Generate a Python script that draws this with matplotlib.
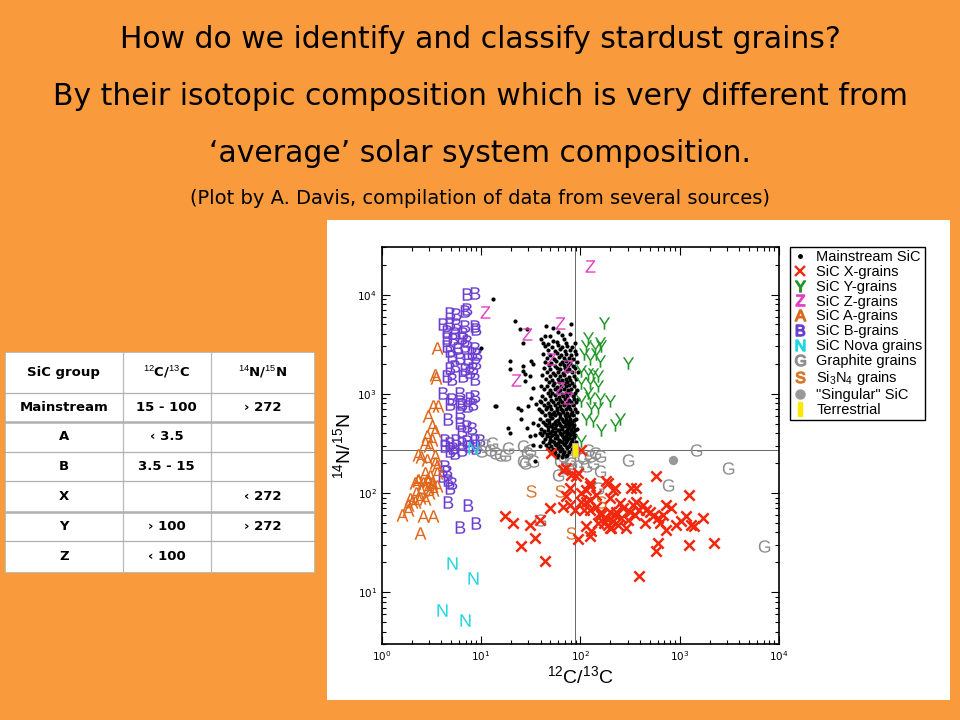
import matplotlib
matplotlib.use("Agg")
import matplotlib.pyplot as plt
from matplotlib.lines import Line2D
from matplotlib.patches import Rectangle
from matplotlib.ticker import LogLocator, LogFormatterMathtext, NullFormatter

plt.rcParams["font.family"] = ["DejaVu Sans"]
plt.rcParams["mathtext.fontset"] = "custom"
plt.rcParams["mathtext.rm"] = "Liberation Sans"
plt.rcParams["mathtext.it"] = "Liberation Sans:italic"
plt.rcParams["mathtext.bf"] = "Liberation Sans:bold"

BG = "#F99B3C"

# ---- data: (12C/13C, 14N/15N) ----
a_grains = [
    (3.57, 2900), (3.43, 1550), (3.55, 1450), (3.30, 750), (3.70, 750), (2.94, 594),
    (3.18, 471), (3.43, 419), (2.83, 373), (3.18, 345), (3.00, 300), (2.33, 244),
    (3.43, 234), (3.57, 186), (2.33, 136), (2.83, 136), (3.18, 126), (2.94, 112),
    (3.30, 108), (1.93, 86), (2.16, 82), (2.43, 89), (2.72, 86), (1.59, 60),
    (1.85, 68), (2.62, 58), (3.30, 58), (2.43, 39.5), (1.85, 76), (2.00, 82),
    (2.16, 126), (2.33, 131), (2.62, 126), (2.94, 131), (3.18, 117), (2.72, 159),
    (3.06, 147), (3.57, 117), (2.72, 318), (2.50, 230), (2.83, 217), (3.43, 201),
    (3.57, 159), (2.20, 100), (2.50, 105), (3.00, 100),
]
b_grains = [
    (7.15, 10070), (8.67, 10470), (4.86, 6580), (5.66, 6310), (6.87, 6820), (7.15, 7080),
    (4.16, 5010), (4.86, 5210), (5.66, 5010), (6.87, 4820), (8.67, 4820), (9.00, 4470),
    (4.50, 4290), (5.45, 4130), (6.61, 4130), (4.50, 3680), (5.25, 3530), (6.37, 3680),
    (7.15, 3400), (4.50, 3030), (4.86, 2690), (5.89, 2920), (6.87, 3030), (8.67, 2920),
    (8.04, 2590), (9.02, 2500), (5.06, 2400), (6.12, 2310), (7.43, 2220), (4.86, 1830),
    (5.45, 1900), (6.87, 1760), (8.30, 1830), (9.00, 2060), (4.50, 1510), (5.06, 1400),
    (6.61, 1510), (8.67, 1400), (7.70, 1650), (4.16, 1023), (6.12, 1023), (5.06, 877),
    (6.12, 842), (7.70, 912), (8.67, 946), (4.86, 780), (6.37, 780), (7.43, 750),
    (8.30, 780), (6.12, 643), (4.67, 551), (6.12, 509), (7.15, 471), (8.04, 454),
    (6.37, 419), (4.33, 345), (4.86, 320), (5.66, 345), (6.37, 320), (7.15, 332),
    (8.67, 345), (9.72, 345), (4.33, 296), (5.25, 285), (6.37, 274), (7.70, 296),
    (9.00, 285), (5.45, 254), (4.86, 263), (4.33, 186), (4.50, 165), (4.16, 147),
    (4.67, 136), (5.06, 126), (4.86, 112), (4.70, 82), (7.40, 76), (9.00, 50),
    (6.12, 45),
]
z_grains = [
    (124, 19300), (10.9, 6730), (28.7, 3970), (22.7, 1390), (61.9, 5210),
    (51.1, 2220), (75, 1900), (61.9, 1150), (75, 912),
]
y_grains = [
    (175, 5210), (119, 3680), (156, 3270), (115, 3030), (139, 2920), (163, 3030),
    (110, 2500), (124, 2220), (145, 2500), (156, 2140), (301, 2060), (102, 1690),
    (119, 1570), (134, 1570), (150, 1510), (102, 1290), (124, 1290), (150, 1190),
    (119, 1023), (102, 842), (124, 912), (156, 877), (197, 842), (150, 722),
    (129, 722), (115, 551), (134, 529), (163, 435), (221, 490), (248, 551), (102, 332),
]
n_grains = [(5.06, 19.6), (8.33, 13.8), (4.01, 6.6), (6.87, 5.25), (8.33, 285)]
g_grains = [
    (10.9, 308), (12.3, 274), (13.8, 254), (15.5, 244), (10.1, 263), (18.7, 285),
    (26.5, 296), (28.7, 254), (30.9, 274), (26.5, 208), (27.6, 201), (17.3, 244),
    (33.4, 208), (61.9, 208), (69.5, 179), (81.2, 201), (94.6, 186), (115, 186),
    (124, 234), (139, 254), (156, 234), (156, 165), (150, 112), (39, 54),
    (59.6, 153), (301, 217), (1465, 274), (3040, 179), (759, 121), (7110, 28.9),
    (66.8, 234), (78, 217), (106, 226), (134, 201), (12.8, 320), (119, 274),
]
s_grains = [(32.2, 104), (61.9, 104), (81.2, 39.5), (163, 82)]
x_grains = [
    (51.1, 254), (102, 274), (72.3, 179), (81.2, 153), (91.2, 147), (78, 112),
    (102, 100), (124, 117), (182, 131), (221, 112), (326, 112), (366, 112),
    (78, 76), (87.6, 68), (102, 82), (115, 82), (124, 68), (156, 63),
    (49.1, 70.5), (17.3, 58), (21, 50), (30.9, 48), (39, 54), (34.7, 35),
    (25.5, 29), (43.8, 20.4), (94.6, 34), (115, 46), (129, 41), (182, 56),
    (197, 44), (239, 48), (290, 44), (230, 65), (338, 76), (66.8, 172),
    (94.6, 159), (124, 126), (115, 108), (189, 126), (213, 108), (72.3, 92.5),
    (124, 85.5), (145, 96), (197, 89), (248, 79), (366, 82), (460, 68),
    (581, 147), (1255, 96), (66.8, 73), (110, 68), (145, 73), (163, 60),
    (197, 65), (221, 60), (268, 70.5), (313, 65), (352, 60), (394, 68),
    (426, 76), (497, 65), (443, 50), (537, 58), (603, 56), (676, 60),
    (627, 50), (731, 42.6), (923, 48), (1035, 52), (1160, 58), (1305, 48),
    (1410, 46), (1710, 56), (2240, 31), (1255, 30), (603, 31), (581, 25.7),
    (394, 14.4), (205, 44), (189, 48), (124, 36.5), (150, 50), (175, 50),
    (213, 52), (258, 56), (301, 54), (731, 76), (822, 70.5),
]
mainstream = [
    (13.2, 8970), (21.9, 5400), (24.5, 4500), (28.7, 4500), (26.5, 3270), (32.2, 2130),
    (33.4, 2000), (19.5, 2130), (19.5, 1760), (26.5, 1900), (26.5, 1690), (27.6, 1570),
    (30.9, 1510), (27.6, 1340), (33.4, 1150), (32.2, 912), (14.3, 750), (23.6, 722),
    (25.5, 694), (29.7, 750), (36.1, 780), (39, 842), (25.5, 551), (33.4, 509),
    (37.5, 490), (18.7, 454), (19.5, 404), (28.7, 454), (30.9, 373), (34.7, 388),
    (39, 296), (33.4, 308), (39, 404), (40.5, 667), (34.7, 208), (10.1, 2920),
    (13.8, 750), (45.5, 4850), (53, 4650), (40.5, 3530), (43.8, 3820), (49.1, 3820),
    (53, 3400), (42.1, 3270), (47.2, 3150), (78, 3970), (81.2, 5010), (72.3, 3270),
    (87.6, 3270), (60, 4200), (65, 3900), (68, 3600), (58, 3300),
    (44, 3050), (52, 2950), (60, 3080), (66, 2980), (74, 3020), (83, 2940),
    (47, 2760), (55, 2700), (63, 2800), (70, 2720), (78, 2780), (88, 2690),
    (42, 2520), (50, 2460), (58, 2550), (64, 2480), (72, 2530), (80, 2450), (90, 2510),
    (46, 2310), (54, 2260), (61, 2340), (68, 2280), (76, 2320), (85, 2250),
    (44, 2110), (51, 2060), (57, 2130), (65, 2080), (71, 2120), (79, 2050), (92, 2090),
    (48, 1960), (55, 1920), (62, 1980), (69, 1930), (75, 1970), (84, 1910),
    (43, 1810), (50, 1780), (58, 1830), (63, 1770), (70, 1820), (77, 1790), (88, 1800),
    (46, 1660), (53, 1630), (60, 1670), (67, 1620), (73, 1680), (82, 1640), (94, 1650),
    (41, 1530), (49, 1500), (56, 1540), (62, 1510), (69, 1550), (76, 1490), (86, 1520),
    (45, 1410), (52, 1390), (59, 1420), (65, 1380), (72, 1410), (79, 1390), (90, 1400),
    (48, 1310), (54, 1280), (61, 1320), (68, 1290), (74, 1300), (83, 1280),
    (40, 1210), (46, 1190), (53, 1220), (58, 1180), (64, 1210), (71, 1190), (77, 1220), (87, 1200),
    (43, 1110), (50, 1090), (56, 1120), (62, 1080), (68, 1110), (75, 1090), (81, 1120), (93, 1100),
    (47, 1030), (52, 1010), (59, 1040), (66, 1000), (72, 1030), (79, 1010), (89, 1020),
    (41, 960), (49, 940), (55, 965), (61, 935), (67, 955), (74, 945), (84, 960),
    (44, 890), (51, 870), (57, 895), (63, 870), (70, 885), (77, 875), (86, 890), (95, 880),
    (40, 825), (47, 810), (53, 830), (60, 815), (66, 825), (73, 810), (80, 830), (90, 820),
    (43, 765), (49, 750), (56, 770), (62, 755), (69, 765), (76, 750), (84, 765),
    (38, 705), (45, 695), (51, 710), (58, 690), (64, 705), (71, 695), (78, 710), (88, 700),
    (41, 655), (48, 645), (54, 660), (60, 640), (67, 655), (74, 645), (82, 660), (93, 650),
    (44, 605), (50, 595), (56, 610), (63, 590), (70, 605), (76, 595), (85, 605),
    (39, 560), (46, 550), (52, 565), (59, 548), (65, 560), (72, 550), (79, 562), (90, 555),
    (42, 520), (48, 510), (55, 522), (61, 508), (68, 518), (75, 510), (83, 520),
    (45, 480), (51, 470), (57, 482), (64, 468), (70, 478), (77, 472), (87, 480),
    (40, 445), (47, 435), (53, 447), (60, 433), (66, 444), (73, 436), (81, 446), (92, 440),
    (43, 414), (49, 406), (56, 415), (62, 404), (69, 413), (76, 407), (85, 412),
    (41, 384), (46, 376), (52, 386), (58, 375), (65, 383), (71, 377), (79, 385), (89, 380),
    (44, 354), (50, 346), (55, 355), (61, 345), (68, 353), (74, 347), (83, 352),
    (42, 328), (48, 322), (54, 330), (60, 321), (66, 327), (72, 323), (80, 329), (91, 325),
    (45, 303), (51, 297), (57, 305), (63, 296), (70, 302), (77, 298), (86, 301),
    (47, 282), (53, 277), (59, 283), (66, 276), (73, 281), (82, 279),
    (50, 262), (56, 257), (62, 263), (69, 256), (76, 261),
    (54, 247), (60, 243), (67, 248), (74, 242),
    (58, 233), (65, 230), (72, 234),
    # the densest lower part of the cluster
    (46, 730), (58, 720), (66, 680), (75, 730), (52, 630), (63, 620), (71, 580),
    (80, 625), (48, 540), (57, 530), (67, 535), (77, 530), (86, 540), (44, 500),
    (53, 495), (62, 490), (72, 495), (81, 500), (47, 458), (56, 455), (66, 462),
    (75, 455), (84, 458), (43, 425), (52, 420), (61, 427), (71, 420), (80, 424),
    (88, 428), (46, 395), (55, 392), (64, 396), (74, 390), (83, 395), (49, 365),
    (58, 362), (67, 366), (77, 362), (86, 364), (52, 338), (63, 336), (73, 340),
    (83, 338), (56, 315), (68, 312), (79, 315), (62, 290), (74, 288), (88, 290),
]
singular = [(851, 213)]
terrestrial = [(89, 272)]
solar_c, solar_n = 89, 272

# table contents
table_header = ["SiC group", "$^{12}$C/$^{13}$C", "$^{14}$N/$^{15}$N"]
table_rows = [
    ["Mainstream", "15 - 100", "\u203a 272"],
    ["A", "\u2039 3.5", ""],
    ["B", "3.5 - 15", ""],
    ["X", "", "\u2039 272"],
    ["Y", "\u203a 100", "\u203a 272"],
    ["Z", "\u2039 100", ""],
]

titles = [
    "How do we identify and classify stardust grains?",
    "By their isotopic composition which is very different from",
    "\u2018average\u2019 solar system composition.",
]
subtitle = "(Plot by A. Davis, compilation of data from several sources)"

C_A, C_B, C_Z, C_Y = "#E0661A", "#6A3CCF", "#E23DC2", "#23962A"
C_N, C_G, C_S, C_X = "#20D6E2", "#8E8E8E", "#D9762A", "#F2280E"

W, H = 960, 720
fig = plt.figure(figsize=(9.6, 7.2), dpi=100, facecolor=BG)

for i, t in enumerate(titles):
    fig.text(0.5, 1 - (40 + 56.5 * i) / H, t, ha="center", va="center", fontsize=21.5)
fig.text(0.5, 1 - 199 / H, subtitle, ha="center", va="center", fontsize=14)

# white panel behind the plot
fig.add_artist(Rectangle((327 / W, 1 - 700 / H), 623 / W, 480 / H,
                         transform=fig.transFigure, facecolor="white", edgecolor="none", zorder=0))

ax = fig.add_axes([381.7 / W, 1 - 644 / H, 397.3 / W, 396.7 / H])
ax.set_xscale("log")
ax.set_yscale("log")
ax.set_xlim(1, 1e4)
ax.set_ylim(3, 3e4)

ax.axhline(solar_n, color="#666666", lw=0.7, zorder=1)
ax.axvline(solar_c, color="#666666", lw=0.7, zorder=1)


def letters(pts, letter, color, z=3):
    xs, ys = zip(*pts)
    ax.scatter(xs, ys, marker=r"$\mathrm{%s}$" % letter, s=80, c=color, linewidths=0, zorder=z)


letters(b_grains, "B", C_B, 2)
letters(a_grains, "A", C_A, 2)
letters(n_grains, "N", C_N, 3)
letters(g_grains, "G", C_G, 2)
mx, my = zip(*mainstream)
ax.scatter(mx, my, s=9, c="black", linewidths=0, zorder=3)
letters(z_grains, "Z", C_Z, 4)
letters(y_grains, "Y", C_Y, 4)
letters(s_grains, "S", C_S, 4)
xx, xy = zip(*x_grains)
ax.scatter(xx, xy, marker="x", s=55, c=C_X, linewidths=1.8, zorder=5)
sx, sy = zip(*singular)
ax.scatter(sx, sy, marker="o", s=45, c="#999999", linewidths=0, zorder=5)
bar = [(-0.35, -1), (0.35, -1), (0.35, 1), (-0.35, 1), (-0.35, -1)]
tx, ty = zip(*terrestrial)
ax.scatter(tx, ty, marker=bar, s=110, facecolor="#FFE800", edgecolor="#AAAAAA", linewidths=0.6, zorder=6)

for axis in (ax.xaxis, ax.yaxis):
    axis.set_major_locator(LogLocator(base=10, numticks=10))
    axis.set_major_formatter(LogFormatterMathtext())
    axis.set_minor_locator(LogLocator(base=10, subs=range(2, 10), numticks=10))
    axis.set_minor_formatter(NullFormatter())
ax.tick_params(which="both", direction="in", top=True, right=True, labelsize=7.5, width=0.8)
ax.tick_params(which="major", length=6)
ax.tick_params(which="minor", length=3)
for sp in ax.spines.values():
    sp.set_linewidth(1.2)
ax.set_xlabel("$^{12}$C/$^{13}$C", fontsize=14, fontfamily="Liberation Sans", labelpad=2)
ax.set_ylabel("$^{14}$N/$^{15}$N", fontsize=14, fontfamily="Liberation Sans", labelpad=2)

handles = [
    Line2D([], [], ls="none", marker="o", ms=2.5, color="black"),
    Line2D([], [], ls="none", marker="x", ms=7, mew=1.7, color=C_X),
    Line2D([], [], ls="none", marker=r"$\mathrm{Y}$", ms=8, color=C_Y),
    Line2D([], [], ls="none", marker=r"$\mathrm{Z}$", ms=8, color=C_Z),
    Line2D([], [], ls="none", marker=r"$\mathrm{A}$", ms=8, color=C_A),
    Line2D([], [], ls="none", marker=r"$\mathrm{B}$", ms=8, color=C_B),
    Line2D([], [], ls="none", marker=r"$\mathrm{N}$", ms=8, color=C_N),
    Line2D([], [], ls="none", marker=r"$\mathrm{G}$", ms=8, color=C_G),
    Line2D([], [], ls="none", marker=r"$\mathrm{S}$", ms=8, color=C_S),
    Line2D([], [], ls="none", marker="o", ms=6.5, color="#999999"),
    Line2D([], [], ls="none", marker=bar, ms=10, mfc="#FFE800", mec="#FFE800"),
]
labels = ["Mainstream SiC", "SiC X-grains", "SiC Y-grains", "SiC Z-grains", "SiC A-grains",
          "SiC B-grains", "SiC Nova grains", "Graphite grains", "Si$_3$N$_4$ grains",
          "\"Singular\" SiC", "Terrestrial"]
leg = fig.legend(handles, labels, loc="upper left", bbox_to_anchor=(790 / W, 1 - 247 / H),
                 frameon=True, fancybox=False, edgecolor="black", framealpha=1,
                 prop={"family": "Liberation Sans", "size": 10.5}, handlelength=1.0,
                 handletextpad=0.6, labelspacing=0.06, borderpad=0.2, borderaxespad=0)
leg.get_frame().set_linewidth(1.0)

# classification table on the left
tab = fig.add_axes([5 / W, 1 - 573 / H, 310 / W, 221 / H])
tab.set_xlim(0, 310)
tab.set_ylim(221, 0)
tab.axis("off")
tab.add_patch(Rectangle((0, 0), 310, 221, facecolor="white", edgecolor="#B0B0B0", lw=1.2))
col_edges = [117.7, 205.7]
row_edges = [40.7, 70.3, 99.7, 129, 159.7, 189]
thick_rows = [70.3, 159.7]
for cx in col_edges:
    tab.plot([cx, cx], [0, 221], color="#B8B8B8", lw=0.9)
for ry in row_edges:
    tab.plot([0, 310], [ry, ry], color="#B0B0B0", lw=1.8 if ry in thick_rows else 0.9)
col_mid = [58.8, 161.7, 257.8]
row_mid = [20.3, 55.5, 85, 114.3, 144.3, 174.3, 205]
for j, txt in enumerate(table_header):
    tab.text(col_mid[j], row_mid[0], txt, ha="center", va="center", fontsize=9.5, fontweight="bold")
for i, row in enumerate(table_rows):
    for j, txt in enumerate(row):
        if txt:
            tab.text(col_mid[j], row_mid[i + 1], txt, ha="center", va="center",
                     fontsize=9.5, fontweight="bold")

fig.savefig("out.png", dpi=100, facecolor=BG)
